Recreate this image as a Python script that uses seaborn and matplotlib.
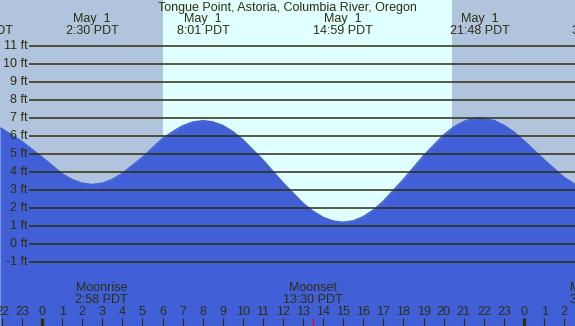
"""
Tide chart for Tongue Point, Astoria
"""

import matplotlib
matplotlib.use("Agg")
import matplotlib.pyplot as plt
import seaborn as sns
import pandas as pd

# hours after May 1 00:00 PDT and tide height in ft
tide_hours = [-2.09, -2, -1, 0, 1, 1.5, 2, 2.5, 3, 3.5, 4, 5, 6, 6.5, 7, 7.5, 8.02, 8.5,
              9, 9.5, 10, 11, 12, 13, 13.5, 14, 14.5, 14.98, 15.5, 16, 16.5, 17, 18, 19,
              20, 20.5, 21, 21.3, 21.8, 22.5, 23, 23.5, 24, 25, 26, 26.54]
tide_feet = [6.44, 6.40, 5.69, 4.82, 3.89, 3.57, 3.37, 3.30, 3.37, 3.58, 3.91, 4.81, 5.85,
             6.23, 6.56, 6.77, 6.85, 6.78, 6.58, 6.24, 5.79, 4.66, 3.39, 2.25, 1.81, 1.47,
             1.27, 1.20, 1.28, 1.51, 1.88, 2.37, 3.58, 4.90, 6.05, 6.49, 6.80, 6.92, 7.00,
             6.86, 6.59, 6.21, 5.73, 4.67, 3.69, 3.30]

# high / low tide labels at the top (the outer dates fall off the picture)
extreme_hours = [-2.93, 2.5, 8.02, 14.98, 21.8, 27.7]
extreme_dates = ["", "May  1", "May  1", "May  1", "May  1", ""]
extreme_times = ["21:04 PDT", "2:30 PDT", "8:01 PDT", "14:59 PDT", "21:48 PDT", "3:36 PDT"]

# moon events at the bottom
moon_hours = [2.97, 13.5, 27.58]
moon_names = ["Moonrise", "Moonset", "Moonrise"]
moon_times = ["2:58 PDT", "13:30 PDT", "3:35 PDT"]

sunrise, sunset = 6.03, 20.42
levels = list(range(-1, 12))
hour_ticks = list(range(-2, 27))

night = "#b0c4de"
day = "#e0ffff"
water = "#4160d8"
ink = "#2e2e0e"
fs = 9

sns.set_theme(style="white")
plt.rcParams["font.family"] = ["Liberation Sans", "DejaVu Sans"]

fig = plt.figure(figsize=(5.75, 3.26), dpi=100)
ax = fig.add_axes([0, 0, 1, 1])
x0, x1 = -2.092, 26.54
ax.set_xlim(x0, x1)
ax.set_ylim(-4.56, 13.56)
ax.axis("off")

# night / day background
ax.axvspan(x0, sunrise, color=night, lw=0, zorder=0)
ax.axvspan(sunrise, sunset, color=day, lw=0, zorder=0)
ax.axvspan(sunset, x1, color=night, lw=0, zorder=0)

# tide curve
df = pd.DataFrame({"hour": tide_hours, "ft": tide_feet})
ax.fill_between(df["hour"], df["ft"], -10, color=water, lw=0, zorder=1)
sns.lineplot(data=df, x="hour", y="ft", ax=ax, color=water, lw=1.2, zorder=1)

# height grid
ax.hlines(levels, -0.65, x1, color=ink, lw=1.1, zorder=2)
for lv in levels:
    ax.text(-0.72, lv, f"{lv} ft", ha="right", va="center", fontsize=fs, color=ink)

fy = ax.get_xaxis_transform()
ax.text(12.2, 1 - 8 / 326, "Tongue Point, Astoria, Columbia River, Oregon",
        transform=fy, ha="center", va="center", fontsize=fs, color=ink)
for h, d, t in zip(extreme_hours, extreme_dates, extreme_times):
    if d:
        ax.text(h, 1 - 19 / 326, d, transform=fy, ha="center", va="center", fontsize=fs, color=ink)
    ax.text(h, 1 - 31 / 326, t, transform=fy, ha="center", va="center", fontsize=fs, color=ink)

for h, n, t in zip(moon_hours, moon_names, moon_times):
    ax.text(h, 1 - 288 / 326, n, transform=fy, ha="center", va="center", fontsize=fs, color=ink)
    ax.text(h, 1 - 300 / 326, t, transform=fy, ha="center", va="center", fontsize=fs, color=ink)
    ax.vlines(h, 0, 8 / 326, transform=fy, color="red", lw=0.8, zorder=3)

for h in hour_ticks:
    ax.text(h, 1 - 312 / 326, str(h % 24), transform=fy, ha="center", va="center",
            fontsize=fs, color=ink)
    ax.vlines(h, 0, 8 / 326, transform=fy, color=ink, lw=2.4 if h % 24 == 0 else 0.8, zorder=3)

plt.savefig("out.png", dpi=100)
plt.close()
